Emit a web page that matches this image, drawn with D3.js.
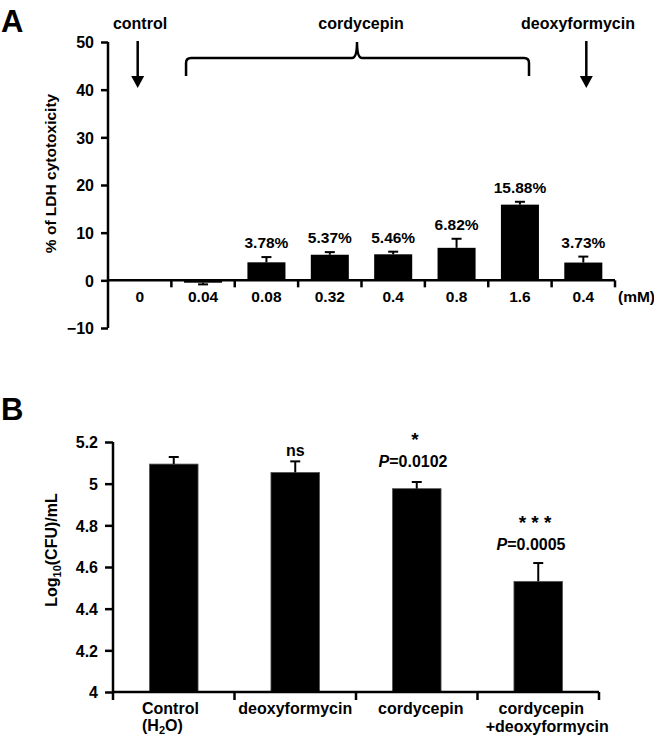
<!DOCTYPE html>
<html><head><meta charset="utf-8">
<script src="https://cdn.jsdelivr.net/npm/d3@7"></script>
<style>
html,body{margin:0;padding:0;background:#fff;}
svg text{font-family:"Liberation Sans",Arial,sans-serif;font-weight:bold;fill:#000;}
</style></head>
<body>
<svg id="c" width="654" height="738"></svg>
<script>
// ---------- Panel A data ----------
const catsA = ["0","0.04","0.08","0.32","0.4","0.8","1.6","0.4 "];
const tickLabelsA = ["0","0.04","0.08","0.32","0.4","0.8","1.6","0.4"];
const valuesA = [0, -0.5, 3.78, 5.37, 5.46, 6.82, 15.88, 3.73];
const errA = [0, 0.35, 1.1, 0.55, 0.55, 1.9, 0.6, 1.25];
const pctLabelsA = ["", "", "3.78%", "5.37%", "5.46%", "6.82%", "15.88%", "3.73%"];
const yTicksA = [-10, 0, 10, 20, 30, 40, 50];

// ---------- Panel B data ----------
const catsB = ["Control (H2O)", "deoxyformycin", "cordycepin", "cordycepin+deoxyformycin"];
const valuesB = [5.094, 5.054, 4.976, 4.531];
const errB = [0.034, 0.053, 0.032, 0.088];
const starsB = ["", "ns", "*", "* * *"];
const pValsB = ["", "", "0.0102", "0.0005"];
const yTicksB = [4, 4.2, 4.4, 4.6, 4.8, 5, 5.2];

const svg = d3.select("#c");
const FS = 16;

// ================= Panel A =================
const xA = d3.scaleBand().domain(catsA).range([108, 615]).paddingInner(0.4).paddingOuter(0.2);
const yA = d3.scaleLinear().domain([-10, 50]).range([328, 42]);
const gA = svg.append("g");

// y axis
const yAxA = gA.append("g").attr("transform", "translate(108,0)")
  .call(d3.axisLeft(yA).tickValues(yTicksA).tickSize(7).tickPadding(7).tickFormat(d3.format("d")));
yAxA.select(".domain").attr("stroke-width", 2.5).attr("d", `M0,${yA(50)}V${yA(-10)}`);
yAxA.selectAll(".tick line").attr("stroke-width", 2.5);
yAxA.selectAll(".tick text").style("font-size", FS + "px").attr("dy", "0.36em");

// bars
gA.selectAll("rect.bar").data(catsA).join("rect")
  .attr("x", d => xA(d)).attr("width", xA.bandwidth())
  .attr("y", (d, i) => yA(Math.max(0, valuesA[i])))
  .attr("height", (d, i) => Math.abs(yA(valuesA[i]) - yA(0)))
  .attr("fill", "#000");

// error bars
catsA.forEach((c, i) => {
  if (errA[i] === 0) return;
  const cx = xA(c) + xA.bandwidth() / 2;
  const v = valuesA[i];
  const tip = v >= 0 ? v + errA[i] : v - errA[i];
  gA.append("line").attr("x1", cx).attr("x2", cx).attr("y1", yA(v)).attr("y2", yA(tip)).attr("stroke", "#000").attr("stroke-width", 2);
  gA.append("line").attr("x1", cx - 5).attr("x2", cx + 5).attr("y1", yA(tip)).attr("y2", yA(tip)).attr("stroke", "#000").attr("stroke-width", 2);
  if (pctLabelsA[i]) {
    gA.append("text").attr("x", cx).attr("y", yA(tip) - 9).attr("text-anchor", "middle")
      .style("font-size", "15.5px").text(pctLabelsA[i]);
  }
});

// x axis line + boundary ticks
gA.append("line").attr("x1", 108).attr("x2", 615).attr("y1", yA(0)).attr("y2", yA(0)).attr("stroke", "#000").attr("stroke-width", 2.5);
d3.range(1, catsA.length + 1).forEach(k => {
  const tx = 108 + k * (507 / catsA.length);
  gA.append("line").attr("x1", tx).attr("x2", tx).attr("y1", yA(0)).attr("y2", yA(0) + 7).attr("stroke", "#000").attr("stroke-width", 2.5);
});
catsA.forEach((c, i) => {
  gA.append("text").attr("x", xA(c) + xA.bandwidth() / 2).attr("y", yA(0) + 22).attr("text-anchor", "middle")
    .style("font-size", "15.5px").text(tickLabelsA[i]);
});
gA.append("text").attr("x", 618).attr("y", yA(0) + 22).style("font-size", "15.5px").text("(mM)");

// y label
gA.append("text").attr("transform", `translate(56,${(87 + 260) / 2}) rotate(-90)`).attr("text-anchor", "middle")
  .style("font-size", "15.5px").text("% of LDH cytotoxicity");

// panel letter
svg.append("text").attr("x", 1).attr("y", 32).style("font-size", "31px").text("A");

// annotations
const cCtrl = xA(catsA[0]) + xA.bandwidth() / 2 - 2;
const cDeoxy = xA(catsA[7]) + xA.bandwidth() / 2 + 3;
gA.append("text").attr("x", 140).attr("y", 29).attr("text-anchor", "middle").style("font-size", FS + "px").text("control");
gA.append("text").attr("x", 361).attr("y", 29).attr("text-anchor", "middle").style("font-size", FS + "px").text("cordycepin");
gA.append("text").attr("x", 578).attr("y", 29).attr("text-anchor", "middle").style("font-size", FS + "px").text("deoxyformycin");
[cCtrl, cDeoxy].forEach(ax => {
  gA.append("line").attr("x1", ax).attr("x2", ax).attr("y1", 41).attr("y2", 78).attr("stroke", "#000").attr("stroke-width", 2.5);
  gA.append("path").attr("d", `M${ax - 6.5},76L${ax + 6.5},76L${ax},88Z`).attr("fill", "#000");
});
// brace
const bL = xA(catsA[1]) + 2, bR = 529, bM = 357, bY = 58;
gA.append("path")
  .attr("d", `M${bL},76V${bY + 5}Q${bL},${bY} ${bL + 5},${bY}H${bM - 5}Q${bM},${bY} ${bM},${bY - 16}Q${bM},${bY} ${bM + 5},${bY}H${bR - 5}Q${bR},${bY} ${bR},${bY + 5}V76`)
  .attr("fill", "none").attr("stroke", "#000").attr("stroke-width", 2.5);

// ================= Panel B =================
const xB = d3.scaleBand().domain(catsB).range([113, 599]).paddingInner(0.6).paddingOuter(0.3);
const yB = d3.scaleLinear().domain([4, 5.2]).range([692, 442]);
const gB = svg.append("g");

const yAxB = gB.append("g").attr("transform", "translate(113,0)")
  .call(d3.axisLeft(yB).tickValues(yTicksB).tickSize(8).tickPadding(7).tickFormat(d => String(+d.toFixed(1))));
yAxB.select(".domain").attr("stroke-width", 2.5).attr("d", `M0,${yB(5.2)}V${yB(4)}`);
yAxB.selectAll(".tick line").attr("stroke-width", 2.5);
yAxB.selectAll(".tick text").style("font-size", FS + "px").attr("dy", "0.36em");

gB.selectAll("rect.bar").data(catsB).join("rect")
  .attr("x", d => xB(d)).attr("width", xB.bandwidth())
  .attr("y", (d, i) => yB(valuesB[i])).attr("height", (d, i) => yB(4) - yB(valuesB[i]))
  .attr("fill", "#000").attr("stroke", "#555").attr("stroke-width", 0.8);

catsB.forEach((c, i) => {
  const cx = xB(c) + xB.bandwidth() / 2;
  const tip = valuesB[i] + errB[i];
  gB.append("line").attr("x1", cx).attr("x2", cx).attr("y1", yB(valuesB[i])).attr("y2", yB(tip)).attr("stroke", "#000").attr("stroke-width", 2);
  gB.append("line").attr("x1", cx - 5).attr("x2", cx + 5).attr("y1", yB(tip)).attr("y2", yB(tip)).attr("stroke", "#000").attr("stroke-width", 2);
});

// significance annotations
gB.append("text").attr("x", xB(catsB[1]) + xB.bandwidth() / 2).attr("y", 456).attr("text-anchor", "middle").style("font-size", FS + "px").text(starsB[1]);
gB.append("text").attr("x", 415).attr("y", 446).attr("text-anchor", "middle").style("font-size", "19px").text(starsB[2]);
gB.append("text").attr("x", 535).attr("y", 529).attr("text-anchor", "middle").style("font-size", "19px").text(starsB[3]);
[[2, 413, 467], [3, 531, 550]].forEach(([i, px, py]) => {
  const t = gB.append("text").attr("x", px).attr("y", py).attr("text-anchor", "middle").style("font-size", FS + "px");
  t.append("tspan").style("font-style", "italic").text("P");
  t.append("tspan").text("=" + pValsB[i]);
});

// x axis
gB.append("line").attr("x1", 113).attr("x2", 599).attr("y1", yB(4)).attr("y2", yB(4)).attr("stroke", "#000").attr("stroke-width", 2.5);
d3.range(0, catsB.length + 1).forEach(k => {
  const tx = 113 + k * (486 / catsB.length);
  gB.append("line").attr("x1", tx).attr("x2", tx).attr("y1", yB(4)).attr("y2", yB(4) + 8).attr("stroke", "#000").attr("stroke-width", 2.5);
});
// x labels
const cB = i => xB(catsB[i]) + xB.bandwidth() / 2;
gB.append("text").attr("x", 142).attr("y", 714).style("font-size", FS + "px").text("Control");
const l0b = gB.append("text").attr("x", 142).attr("y", 731).style("font-size", FS + "px");
l0b.append("tspan").text("(H");
l0b.append("tspan").attr("dy", 3).style("font-size", "11px").text("2");
l0b.append("tspan").attr("dy", -3).text("O)");
gB.append("text").attr("x", cB(1)).attr("y", 714).attr("text-anchor", "middle").style("font-size", FS + "px").text("deoxyformycin");
gB.append("text").attr("x", cB(2) + 4).attr("y", 714).attr("text-anchor", "middle").style("font-size", FS + "px").text("cordycepin");
gB.append("text").attr("x", cB(3) + 3).attr("y", 714).attr("text-anchor", "middle").style("font-size", FS + "px").text("cordycepin");
gB.append("text").attr("x", cB(3) + 9).attr("y", 732).attr("text-anchor", "middle").style("font-size", FS + "px").text("+deoxyformycin");

// y label
const yl = gB.append("text").attr("transform", `translate(57,550) rotate(-90)`).attr("text-anchor", "middle").style("font-size", FS + "px");
yl.append("tspan").text("Log");
yl.append("tspan").attr("dy", 4).style("font-size", "11px").text("10");
yl.append("tspan").attr("dy", -4).text("(CFU)/mL");

svg.append("text").attr("x", 1).attr("y", 420).style("font-size", "31px").text("B");
</script>
</body></html>
